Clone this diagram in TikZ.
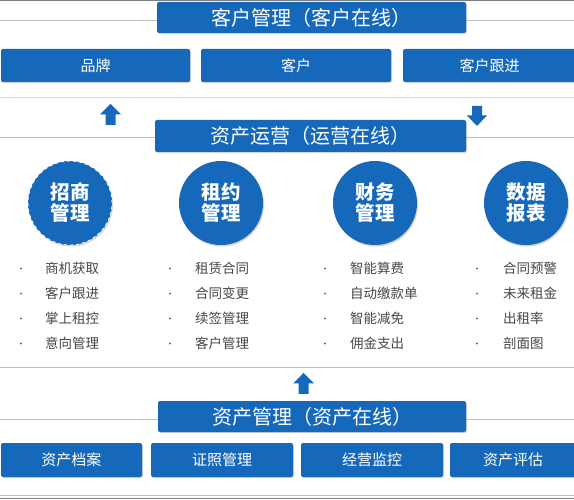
\documentclass[tikz,border=0pt]{standalone}
\usepackage{fontspec}
\setmainfont{Noto Sans CJK SC}
\usetikzlibrary{shadows}
\definecolor{bblue}{RGB}{22,104,186}
\definecolor{lgray}{RGB}{185,190,196}
\definecolor{tgray}{RGB}{70,70,70}
\tikzset{
  bar/.style={fill=bblue, rounded corners=2pt, inner sep=0pt, text=white,
    drop shadow={opacity=0.35, shadow xshift=0.8pt, shadow yshift=-1pt}},
  titlebox/.style={bar, font=\fontsize{20}{23}\selectfont},
  itembox/.style={bar, font=\fontsize{15}{18}\selectfont},
  disc/.style={circle, fill=bblue, minimum size=84pt, inner sep=0pt, text=white,
    align=center, font=\fontsize{19.5}{24}\selectfont\bfseries,
    drop shadow={opacity=0.35, shadow xshift=1pt, shadow yshift=-1.5pt}},
  item/.style={anchor=west, text=tgray, inner sep=0pt, font=\fontsize{13.5}{16}\selectfont},
  dot/.style={circle, fill=tgray!80, inner sep=0pt, minimum size=2.4pt},
  rule/.style={draw=lgray, line width=0.6pt},
  blockarrow/.style={fill=bblue, draw=none},
}
\begin{document}
\begin{tikzpicture}[x=1pt, y=-1pt]
\useasboundingbox (0,0) rectangle (574,500);
% horizontal rules
\draw[draw=gray, line width=1.2pt] (0,0.6) -- (574,0.6);
\draw[rule] (0,20) -- (574,20);
\draw[rule, draw=lgray!60] (0,97) -- (574,97);
\draw[rule] (0,137) -- (574,137);
\draw[rule] (0,367) -- (574,367);
\draw[rule] (0,419) -- (574,419);
\draw[rule] (0,495) -- (574,495);
\draw[draw=gray, line width=1pt] (0,498) -- (574,498);
% customer management
\node[titlebox, minimum width=309pt, minimum height=31pt] (cm) at (311.5,17.5) {客户管理（客户在线）};
\node[itembox, minimum width=189pt, minimum height=33pt] (brand) at (95.5,65.5) {品牌};
\node[itembox, minimum width=190pt, minimum height=33pt] (cust) at (296,65.5) {客户};
\node[itembox, minimum width=173pt, minimum height=33pt] (follow) at (489.5,65.5) {客户跟进};
% block arrows
\fill[blockarrow] (110.5,104) -- (121,114.5) -- (115.5,114.5) -- (115.5,125) -- (105.5,125) -- (105.5,114.5) -- (100,114.5) -- cycle;
\fill[blockarrow] (477,126) -- (487,115.5) -- (482,115.5) -- (482,106) -- (472,106) -- (472,115.5) -- (467,115.5) -- cycle;
% asset operation
\node[titlebox, minimum width=311pt, minimum height=32pt] (ops) at (310.5,136) {资产运营（运营在线）};
\node[disc, draw=white, dashed, line width=0.8pt] (c1) at (70,203) {招商\\[-3pt]管理};
\node[disc] (c2) at (221,203) {租约\\[-3pt]管理};
\node[disc] (c3) at (375,203) {财务\\[-3pt]管理};
\node[disc] (c4) at (526,203) {数据\\[-3pt]报表};
% lists
\foreach \bx/\tx/\a/\b/\c/\d [count=\k] in
  {21/45/商机获取/客户跟进/掌上租控/意向管理,
   170/195/租赁合同/合同变更/续签管理/客户管理,
   325/350/智能算费/自动缴款单/智能减免/佣金支出,
   477/503/合同预警/未来租金/出租率/剖面图} {
  \node[dot] (b\k a) at (\bx,268.5) {};
  \node[dot] (b\k b) at (\bx,293.5) {};
  \node[dot] (b\k c) at (\bx,318.5) {};
  \node[dot] (b\k d) at (\bx,343.5) {};
  \node[item] (t\k a) at (\tx,268) {\a};
  \node[item] (t\k b) at (\tx,293) {\b};
  \node[item] (t\k c) at (\tx,318) {\c};
  \node[item] (t\k d) at (\tx,343) {\d};
}
% arrow up
\fill[blockarrow] (303.5,373) -- (314,383.5) -- (308.5,383.5) -- (308.5,394) -- (298.5,394) -- (298.5,383.5) -- (293,383.5) -- cycle;
% asset management
\node[titlebox, minimum width=308pt, minimum height=31pt] (am) at (312,416.5) {资产管理（资产在线）};
\node[itembox, minimum width=141pt, minimum height=34pt] (r1) at (71.5,460) {资产档案};
\node[itembox, minimum width=142pt, minimum height=34pt] (r2) at (222,460) {证照管理};
\node[itembox, minimum width=142pt, minimum height=34pt] (r3) at (372,460) {经营监控};
\node[itembox, minimum width=126pt, minimum height=34pt] (r4) at (513,460) {资产评估};
\end{tikzpicture}
\end{document}
